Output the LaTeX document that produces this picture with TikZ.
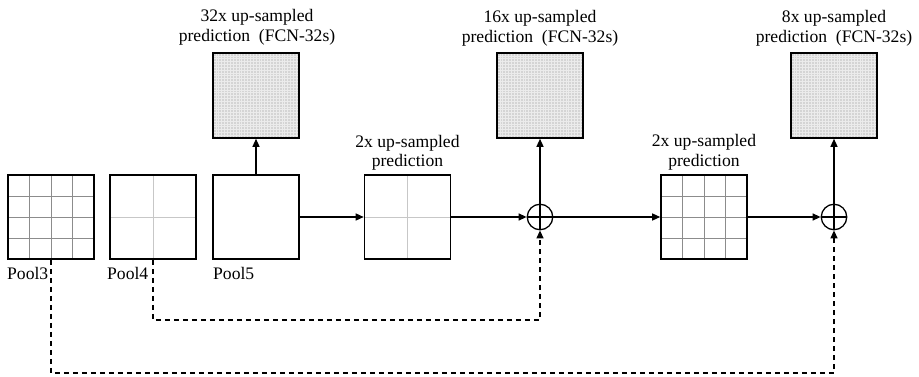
\documentclass[tikz,border=0pt]{standalone}
\usepackage{fontspec}
\setmainfont{Liberation Serif}
\usetikzlibrary{arrows.meta,calc}

\tikzset{
  % feature map / score map boxes
  fmap/.style={draw, line width=1.6pt, minimum width=86pt, minimum height=84pt,
               inner sep=0pt, fill=white},
  darkgrid/.style={draw=black!45, line width=0.8pt},
  lightgrid/.style={draw=black!22, line width=0.8pt},
  finegrid/.style={draw=white!92!black, line width=0.6pt},
  % n x n cell pattern drawn inside a box
  cells/.style n args={2}{path picture={
    \foreach \i in {1,...,#1}{
      \pgfmathsetmacro\fr{\i/(#1+1)}
      \draw[#2] ($(path picture bounding box.south west)!\fr!(path picture bounding box.south east)$)
             -- ($(path picture bounding box.north west)!\fr!(path picture bounding box.north east)$);
      \draw[#2] ($(path picture bounding box.south west)!\fr!(path picture bounding box.north west)$)
             -- ($(path picture bounding box.south east)!\fr!(path picture bounding box.north east)$);
    }}},
  upmap/.style={fmap, minimum height=85pt, fill=black!17, cells={29}{finegrid}},
  sumnode/.style={circle, draw, line width=1.3pt, minimum size=25.5pt, inner sep=0pt, fill=white,
    path picture={\draw[line width=1.3pt]
      (path picture bounding box.north) -- (path picture bounding box.south)
      (path picture bounding box.west) -- (path picture bounding box.east);}},
  flow/.style={line width=1.3pt, -{Triangle[length=8pt,width=7pt]}},
  skip/.style={flow, dash pattern=on 5pt off 4pt},
  lbl/.style={font=\fontsize{17.6pt}{20pt}\selectfont, inner sep=0pt, anchor=base},
  poollbl/.style={lbl, anchor=base west}
}

\begin{document}
\begin{tikzpicture}[x=1pt,y=-1pt]
\useasboundingbox (0,0) rectangle (919,377);

% pooling outputs
\node[fmap, cells={3}{darkgrid}]  (p3) at (51,217) {};
\node[fmap, cells={1}{lightgrid}] (p4) at (153,217) {};
\node[fmap]                       (p5) at (256,217) {};
\node[poollbl] (l3) at (7,279)   {Pool3};
\node[poollbl] (l4) at (107,279) {Pool4};
\node[poollbl] (l5) at (213,279) {Pool5};

% 2x up-sampled predictions
\node[fmap, cells={1}{lightgrid}] (b1) at (407.5,217) {};
\node[fmap, cells={3}{darkgrid}]  (b2) at (704,217) {};
\node[lbl] (b1a) at (407.5,148) {2x up-sampled};
\node[lbl] (b1b) at (407.5,167) {prediction};
\node[lbl] (b2a) at (704,147) {2x up-sampled};
\node[lbl] (b2b) at (704,167) {prediction};

% fusion
\node[sumnode] (c1) at (540,217) {};
\node[sumnode] (c2) at (834,217) {};

% final up-sampled predictions
\node[upmap] (t1) at (256,95.5) {};
\node[upmap] (t2) at (540,95.5) {};
\node[upmap] (t3) at (834,95.5) {};
\node[lbl] (t1a) at (257,22) {32x up-sampled};
\node[lbl] (t1b) at (257,42) {prediction~ (FCN-32s)};
\node[lbl] (t2a) at (540,23) {16x up-sampled};
\node[lbl] (t2b) at (540,43) {prediction~ (FCN-32s)};
\node[lbl] (t3a) at (834,23) {8x up-sampled};
\node[lbl] (t3b) at (834,43) {prediction~ (FCN-32s)};

% main path
\draw[flow] (p5.north) -- (t1.south);
\draw[flow] (p5.east) -- (b1.west);
\draw[flow] (b1.east) -- (c1.west);
\draw[flow] (c1.north) -- (t2.south);
\draw[flow] (c1.east) -- (b2.west);
\draw[flow] (b2.east) -- (c2.west);
\draw[flow] (c2.north) -- (t3.south);

% skip connections
\coordinate (k4) at (153,320);
\coordinate (k3) at (51,373);
\draw[skip] (p4.south) -- (k4) -| (c1.south);
\draw[skip] (p3.south) -- (k3) -| (c2.south);
\end{tikzpicture}
\end{document}
